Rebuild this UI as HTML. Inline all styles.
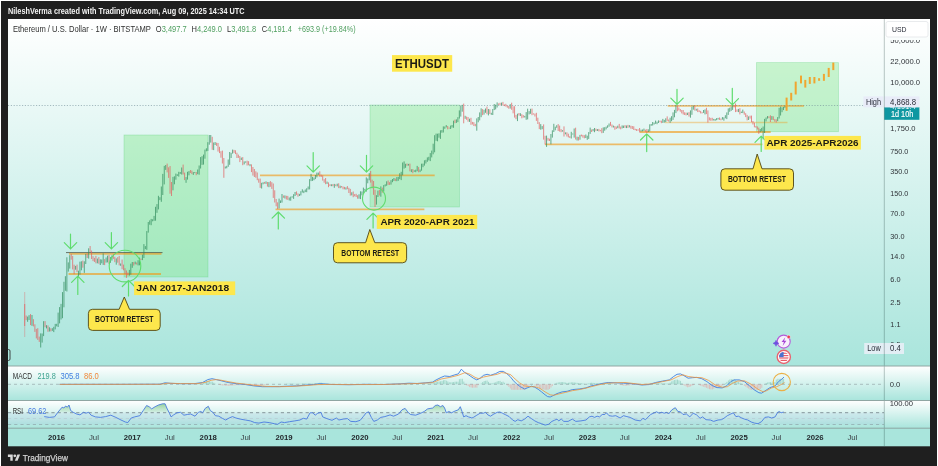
<!DOCTYPE html>
<html lang="en"><head><meta charset="utf-8"><title>ETHUSDT chart</title>
<style>html,body{margin:0;padding:0;background:#ffffff;}body{width:938px;height:466px;overflow:hidden;}svg{display:block;}</style>
</head><body>
<svg width="938" height="472" viewBox="0 0 938 472" font-family='"Liberation Sans", sans-serif'>
<defs>
<linearGradient id="gMain" gradientUnits="userSpaceOnUse" x1="0" y1="19" x2="0" y2="366"><stop offset="0" stop-color="#ffffff"/><stop offset="1" stop-color="#a9e5dc"/></linearGradient>
<linearGradient id="gMacd" gradientUnits="userSpaceOnUse" x1="0" y1="366" x2="0" y2="400.5"><stop offset="0" stop-color="#ffffff"/><stop offset="1" stop-color="#a9e5dc"/></linearGradient>
<linearGradient id="gRsi" gradientUnits="userSpaceOnUse" x1="0" y1="400.5" x2="0" y2="428"><stop offset="0" stop-color="#ffffff"/><stop offset="1" stop-color="#a9e5dc"/></linearGradient>
<clipPath id="cMain"><rect x="8" y="19" width="876.5" height="347"/></clipPath>
<clipPath id="cAxis"><rect x="885" y="40" width="45" height="326"/></clipPath>
<clipPath id="cRsiAx"><rect x="885" y="401" width="45" height="27"/></clipPath>
<linearGradient id="gOB" gradientUnits="userSpaceOnUse" x1="0" y1="403" x2="0" y2="412.7"><stop offset="0" stop-color="#4caf50" stop-opacity="0.6"/><stop offset="1" stop-color="#4caf50" stop-opacity="0.05"/></linearGradient>
<filter id="soft" color-interpolation-filters="sRGB" filterUnits="userSpaceOnUse" x="-10" y="-10" width="960" height="496"><feGaussianBlur stdDeviation="0.35"/></filter>
</defs>
<g filter="url(#soft)">
<rect x="-4" y="-4" width="946" height="480" fill="#ffffff"/>
<rect x="1" y="1" width="936" height="475" fill="#1f1f1f"/>
<rect x="8" y="19" width="922" height="347" fill="url(#gMain)"/>
<rect x="8" y="366" width="922" height="34.5" fill="url(#gMacd)"/>
<rect x="8" y="400.5" width="922" height="27.5" fill="url(#gRsi)"/>
<rect x="8" y="428" width="922" height="18.30000000000001" fill="#a9e5dc"/>
<text x="8.0" y="14.2" font-size="8.6" fill="#f2f2f2" font-weight="bold" text-anchor="start" textLength="236.5" lengthAdjust="spacingAndGlyphs">NileshVerma created with TradingView.com, Aug 09, 2025 14:34 UTC</text>
<rect x="124" y="135" width="84" height="142" fill="rgba(96,224,104,0.30)" stroke="rgba(70,200,100,0.30)" stroke-width="0.8"/>
<rect x="370" y="105" width="89.5" height="102" fill="rgba(96,224,104,0.30)" stroke="rgba(70,200,100,0.30)" stroke-width="0.8"/>
<rect x="756.5" y="62.6" width="82.0" height="69.1" fill="rgba(96,224,104,0.30)" stroke="rgba(70,200,100,0.30)" stroke-width="0.8"/>
<line x1="66" y1="252.6" x2="162.5" y2="252.6" stroke="#4a4a3a" stroke-width="0.9" opacity="0.85"/>
<line x1="69" y1="253.9" x2="161.5" y2="253.9" stroke="#f39916" stroke-width="1.7" opacity="0.62"/>
<line x1="68.5" y1="274" x2="161" y2="274" stroke="#f39916" stroke-width="1.8" opacity="0.62"/>
<line x1="260" y1="175.4" x2="434.7" y2="175.4" stroke="#f39916" stroke-width="1.8" opacity="0.62"/>
<line x1="275.5" y1="209.4" x2="424.4" y2="209.4" stroke="#f39916" stroke-width="1.8" opacity="0.62"/>
<line x1="545" y1="144.3" x2="762.4" y2="144.3" stroke="#f39916" stroke-width="1.8" opacity="0.62"/>
<line x1="640" y1="132" x2="770.7" y2="132" stroke="#f39916" stroke-width="1.9" opacity="0.62"/>
<line x1="664.6" y1="122.5" x2="787.5" y2="122.5" stroke="#f39916" stroke-width="1.5" opacity="0.38"/>
<line x1="667.8" y1="105.9" x2="804" y2="105.9" stroke="#f39916" stroke-width="1.9" opacity="0.6"/>
<line x1="8" y1="105.5" x2="884" y2="105.5" stroke="#6f8a95" stroke-width="0.7" stroke-dasharray="1.2,1.6" opacity="0.8"/>
</g>
<g clip-path="url(#cMain)">
<path d="M24.7 292V337" stroke="#e25e5e" stroke-width="0.7" fill="none" opacity="0.55"/>
<path d="M27.61 316.6V321.8M29.06 315.2V320.0M31.97 315.0V325.8M40.69 333.4V347.5M42.14 333.5V342.6M43.60 321.2V336.1M46.50 325.2V328.4M49.41 327.3V331.5M52.32 328.2V330.9M53.77 326.8V332.1M55.23 323.9V329.4M56.68 323.8V326.3M58.13 312.6V327.0M59.59 307.1V323.4M61.04 303.9V319.5M62.49 292.1V318.2M63.95 281.8V307.3M65.40 276.2V290.8M66.86 257.3V291.5M68.31 262.4V271.6M69.76 255.2V268.6M75.58 265.9V269.7M78.48 270.7V276.6M79.94 261.7V274.7M81.39 261.3V270.3M84.30 261.3V272.9M85.75 253.9V264.0M88.66 248.3V258.6M97.38 258.6V263.3M100.29 259.3V265.0M101.74 259.5V263.3M103.20 253.4V264.9M106.10 257.5V262.6M107.56 255.7V262.4M110.46 257.1V262.8M111.92 255.4V260.6M116.28 258.4V264.7M120.64 263.5V265.8M129.36 269.9V275.7M130.81 263.7V274.7M132.27 262.0V267.8M135.18 261.6V264.3M138.08 260.2V265.4M139.54 257.6V265.3M142.44 254.7V260.1M143.90 244.1V258.0M145.35 246.1V249.1M146.80 231.1V249.8M148.26 222.0V232.6M149.71 220.4V224.7M151.17 218.9V225.2M152.62 219.3V221.3M154.07 215.9V220.8M155.53 206.8V220.7M156.98 204.1V212.8M158.43 195.8V209.4M159.89 197.2V200.1M161.34 186.5V201.8M162.79 173.9V195.0M164.25 165.9V184.4M165.70 165.0V169.9M172.97 176.9V190.3M174.42 176.3V184.3M175.88 173.6V179.7M177.33 174.3V175.9M178.78 171.8V176.6M180.24 172.0V173.9M181.69 167.5V174.5M186.05 177.1V182.8M187.51 171.8V179.6M188.96 171.1V175.3M193.32 172.1V174.9M194.77 172.1V173.1M197.68 169.5V174.2M199.13 165.5V174.7M200.59 157.1V168.5M202.04 156.2V164.9M203.50 154.6V164.6M204.95 149.6V158.7M206.40 148.3V151.3M207.86 142.2V150.9M209.31 135.0V144.7M210.76 135.0V142.6M213.67 142.5V150.1M215.12 142.1V145.0M225.30 166.5V168.5M226.75 165.8V168.3M228.21 159.5V166.8M229.66 152.0V164.8M231.11 152.8V158.0M232.57 149.6V153.6M241.29 157.6V160.0M244.20 161.4V164.4M245.65 161.4V162.7M250.01 164.1V166.2M261.64 182.8V188.5M263.09 182.3V184.3M266.00 181.4V183.9M268.91 182.1V187.2M279.08 198.6V208.4M280.54 200.4V203.0M281.99 194.0V202.6M284.90 195.4V198.5M289.26 197.5V200.5M290.71 196.6V200.7M292.17 196.3V197.6M293.62 194.2V198.9M295.07 192.0V196.0M299.43 193.9V196.0M300.89 191.2V195.4M302.34 189.3V192.5M303.80 190.7V193.1M305.25 189.5V192.1M306.70 188.3V192.2M308.16 186.5V189.5M309.61 179.1V189.4M311.06 173.9V181.1M312.52 176.9V180.9M313.97 177.5V180.2M315.42 175.0V179.1M316.88 172.6V177.4M318.33 172.6V174.9M327.05 181.6V183.9M331.41 184.3V186.2M334.32 183.9V187.8M337.23 183.7V186.4M340.14 185.7V188.2M345.95 187.4V189.6M351.76 192.3V195.4M359.03 194.3V198.7M360.49 191.3V199.1M361.94 191.5V195.3M363.39 187.6V193.7M364.85 188.9V190.7M366.30 177.4V191.7M367.75 178.5V183.3M369.21 173.1V180.3M376.48 195.2V204.6M377.93 190.6V197.0M380.84 186.4V196.7M383.74 185.1V191.4M385.20 184.3V186.4M386.65 181.3V185.8M391.01 180.2V184.6M392.47 179.0V182.2M393.92 178.0V180.9M396.83 177.1V181.2M398.28 176.9V180.8M399.73 173.2V179.1M401.19 171.8V180.1M402.64 162.5V175.3M404.10 161.4V168.6M405.55 163.8V167.8M408.46 163.9V165.6M411.36 169.3V172.1M414.27 170.3V171.8M415.72 169.7V172.2M417.18 165.9V171.2M420.09 169.5V172.1M421.54 163.7V170.7M422.99 163.6V167.2M424.45 160.3V165.6M425.90 159.8V163.5M427.35 157.4V161.8M428.81 156.8V160.4M430.26 153.1V161.1M431.71 150.6V157.4M433.17 143.7V154.3M434.62 135.2V152.3M436.08 133.6V140.8M437.53 133.7V141.3M438.98 133.3V137.7M440.44 130.3V138.9M441.89 130.0V132.7M443.34 126.4V132.5M444.80 126.5V128.8M446.25 125.1V127.4M450.61 125.6V129.0M452.06 125.0V127.5M453.52 120.7V127.8M456.43 119.4V122.9M457.88 117.2V122.1M459.33 110.4V118.5M460.79 105.4V116.6M462.24 104.8V111.7M465.15 115.8V118.8M469.51 118.7V121.9M476.78 118.4V130.7M478.23 117.0V122.3M479.68 112.4V120.4M481.14 108.3V117.2M484.04 109.8V114.6M485.50 108.5V112.8M488.41 109.0V115.4M491.31 112.8V114.8M492.77 109.0V115.0M494.22 104.0V110.1M495.67 104.7V109.4M497.13 102.4V107.5M501.49 102.6V105.4M510.21 104.1V108.6M517.48 113.7V121.1M520.39 113.2V116.0M524.75 115.9V117.5M526.20 112.1V119.8M527.65 108.7V119.4M529.11 111.1V114.4M530.56 108.8V113.8M540.74 124.1V129.7M542.19 126.1V129.2M546.55 135.6V146.9M550.91 134.0V144.3M552.36 130.3V137.6M553.82 123.8V132.0M555.27 126.7V130.3M556.73 125.2V127.8M562.54 130.2V131.6M565.45 132.4V134.3M571.26 131.8V138.5M572.72 133.5V134.5M574.17 128.5V137.6M577.08 136.7V140.5M579.98 134.9V139.7M585.80 134.5V138.0M587.25 135.7V139.8M588.71 132.1V138.9M590.16 127.6V133.9M593.07 129.0V131.2M594.52 128.0V132.2M597.43 129.1V131.0M603.24 127.4V132.9M604.70 127.2V130.7M606.15 126.6V129.4M607.60 125.3V127.8M609.06 123.5V126.7M613.42 125.6V127.5M617.78 125.7V128.2M622.14 125.4V128.4M623.59 125.6V128.0M626.50 125.5V128.1M629.41 125.2V127.4M641.04 129.7V131.5M642.49 129.5V131.3M643.94 128.6V131.0M648.30 129.3V132.0M649.76 124.3V131.4M651.21 124.0V125.8M652.66 122.0V125.5M654.12 122.6V124.5M655.57 120.6V123.8M657.03 121.7V124.2M658.48 120.4V123.0M662.84 118.9V122.9M664.29 119.9V122.6M665.75 118.3V122.1M670.11 117.7V122.8M671.56 116.2V121.2M673.02 112.4V119.9M674.47 109.9V117.3M675.92 104.8V113.1M687.55 112.7V115.0M690.46 110.4V117.7M691.91 106.7V114.8M693.37 105.6V109.7M696.27 108.8V110.7M703.54 110.0V112.9M705.00 109.4V114.4M713.72 118.9V120.5M715.17 119.0V120.8M716.62 118.1V120.2M718.08 117.9V119.5M722.44 117.1V119.6M723.89 117.4V120.7M725.35 115.2V118.3M726.80 112.4V119.1M728.25 108.4V114.9M729.71 107.7V111.8M731.16 106.5V110.9M732.61 104.9V109.9M738.43 108.9V112.1M741.34 111.6V113.0M742.79 109.6V113.1M748.60 116.4V120.0M760.23 129.0V132.2M761.69 127.9V131.3M763.14 126.5V139.4M764.59 118.9V133.0M766.05 117.5V121.4M767.50 116.1V118.6M771.86 116.1V119.9M777.68 117.1V121.1M779.13 107.8V118.5M780.58 106.6V115.5M782.04 107.4V112.2M783.49 106.9V110.1M784.94 105.7V108.1" stroke="#2f8c5c" stroke-width="0.72" fill="none"/>
<path d="M24.70 304.0V326.0M26.15 315.5V320.1M30.51 314.1V325.1M33.42 319.2V326.4M34.88 324.3V331.9M36.33 328.9V338.4M37.78 328.2V339.9M39.24 336.6V341.9M45.05 321.1V327.2M47.96 325.4V331.8M50.87 328.3V331.4M71.22 253.9V259.7M72.67 255.9V269.4M74.12 264.7V274.1M77.03 264.6V272.1M82.84 260.6V267.7M87.21 253.5V258.0M90.11 246.0V252.1M91.57 250.5V259.0M93.02 256.2V261.1M94.47 257.9V261.9M95.93 255.9V263.3M98.83 257.1V263.7M104.65 259.1V265.1M109.01 255.0V263.8M113.37 254.0V258.9M114.82 256.8V262.2M117.73 257.1V262.7M119.19 255.9V265.4M122.09 259.5V269.2M123.55 264.6V270.3M125.00 268.2V274.1M126.45 270.5V277.9M127.91 272.5V275.4M133.72 262.1V265.6M136.63 262.5V264.5M140.99 258.6V260.0M167.15 163.6V172.4M168.61 167.3V177.9M170.06 166.0V193.7M171.52 182.0V196.0M183.14 164.6V174.5M184.60 172.6V180.1M190.41 170.0V173.0M191.87 170.6V174.1M196.23 172.0V175.2M212.22 136.8V149.8M216.58 142.7V145.9M218.03 143.0V151.6M219.49 146.8V153.1M220.94 151.2V157.7M222.39 150.6V163.5M223.85 158.0V177.8M234.02 149.9V152.9M235.48 150.3V154.1M236.93 152.7V158.0M238.38 154.6V157.9M239.84 156.0V162.1M242.74 157.1V165.2M247.10 160.7V165.5M248.56 161.2V165.3M251.47 164.4V172.1M252.92 167.0V175.6M254.37 169.0V177.0M255.83 171.3V177.7M257.28 172.5V180.2M258.73 178.7V182.7M260.19 178.6V187.9M264.55 181.9V183.7M267.45 182.0V186.6M270.36 181.1V186.8M271.82 182.2V188.9M273.27 183.5V197.9M274.72 190.3V202.5M276.18 199.0V206.3M277.63 202.3V209.0M283.44 195.5V197.8M286.35 195.8V199.5M287.81 195.9V199.9M296.53 191.4V194.9M297.98 193.4V196.7M319.79 171.3V176.7M321.24 174.7V176.9M322.69 175.4V180.6M324.15 179.2V182.7M325.60 178.0V184.2M328.51 182.4V187.2M329.96 184.2V186.0M332.87 184.1V186.2M335.78 184.4V186.1M338.68 183.3V188.1M341.59 186.0V187.5M343.04 186.5V189.3M344.50 186.9V189.3M347.40 186.1V189.2M348.86 187.8V193.0M350.31 188.9V195.6M353.22 191.5V197.2M354.67 194.1V196.3M356.13 193.8V197.0M357.58 195.2V198.7M370.66 171.0V182.6M372.12 179.7V188.4M373.57 181.0V194.8M375.02 189.8V207.0M379.38 190.0V195.5M382.29 187.6V192.7M388.11 180.5V184.9M389.56 182.2V184.9M395.37 178.6V181.1M407.00 163.6V165.8M409.91 163.6V171.3M412.82 169.0V173.2M418.63 167.1V172.3M447.70 126.0V129.3M449.16 127.5V128.7M454.97 119.6V123.2M463.69 103.6V123.3M466.60 116.6V119.8M468.05 117.0V121.7M470.96 117.8V124.8M472.42 121.9V124.5M473.87 122.2V126.0M475.32 123.9V126.3M482.59 109.1V115.2M486.95 106.6V114.2M489.86 109.3V114.0M498.58 103.5V104.9M500.03 102.8V105.3M502.94 101.9V105.6M504.40 104.4V106.1M505.85 103.8V106.6M507.30 105.4V107.7M508.76 105.9V108.7M511.66 102.7V109.8M513.12 106.3V113.3M514.57 106.2V117.6M516.02 114.9V119.2M518.93 113.0V115.5M521.84 114.2V118.3M523.29 115.1V117.6M532.01 108.6V115.2M533.47 113.4V114.5M534.92 113.6V116.5M536.37 112.8V120.9M537.83 117.7V124.0M539.28 122.2V129.1M543.64 124.4V139.6M545.10 135.8V144.5M548.00 137.9V140.7M549.46 138.7V141.0M558.18 124.1V131.0M559.63 125.6V131.6M561.09 129.1V132.2M563.99 126.4V136.5M566.90 132.3V136.5M568.35 133.7V137.4M569.81 136.1V138.0M575.62 127.7V139.5M578.53 136.9V140.5M581.44 134.6V136.3M582.89 134.9V137.7M584.34 135.2V138.3M591.61 129.5V132.0M595.97 128.7V130.9M598.88 128.9V131.4M600.33 129.9V131.3M601.79 128.2V133.2M610.51 121.9V125.8M611.96 124.5V127.4M614.87 126.1V129.8M616.32 126.6V129.0M619.23 123.9V128.5M620.69 126.6V129.3M625.05 125.1V127.8M627.95 124.9V127.9M630.86 125.7V128.7M632.31 126.0V129.0M633.77 126.3V130.0M635.22 128.8V130.2M636.67 129.0V131.0M638.13 129.4V130.6M639.58 128.0V132.5M645.40 129.7V131.7M646.85 129.1V133.0M659.93 120.7V122.2M661.39 120.7V123.2M667.20 116.4V120.9M668.65 119.5V121.5M677.38 105.8V111.3M678.83 107.5V110.4M680.28 109.0V111.7M681.74 110.0V113.4M683.19 110.0V114.5M684.64 112.3V115.0M686.10 112.6V115.4M689.01 112.1V116.6M694.82 105.6V110.6M697.73 108.5V112.1M699.18 110.3V112.1M700.63 110.9V113.4M702.09 112.1V113.4M706.45 107.8V114.1M707.90 110.4V122.6M709.36 117.3V120.4M710.81 117.9V120.8M712.26 117.8V120.6M719.53 117.5V119.9M720.98 118.5V120.3M734.07 105.4V107.4M735.52 103.5V112.1M736.97 109.4V111.8M739.88 108.2V114.4M744.24 111.5V114.7M745.70 113.2V117.1M747.15 114.9V120.4M750.06 115.7V118.6M751.51 115.6V122.2M752.96 121.0V124.5M754.42 122.7V127.3M755.87 125.9V127.7M757.33 126.4V129.5M758.78 127.7V133.8M768.95 116.3V118.2M770.41 115.3V122.0M773.32 116.3V120.1M774.77 119.1V121.7M776.22 119.3V122.5" stroke="#e25e5e" stroke-width="0.72" fill="none"/>
</g>
<g filter="url(#soft)">
<rect x="785.6" y="97.6" width="2" height="13.2" fill="#f0a630"/>
<rect x="790.2" y="92.8" width="2" height="7.7" fill="#f0a630"/>
<rect x="794.7" y="81.6" width="2" height="12.9" fill="#f0a630"/>
<rect x="800.0" y="75.6" width="2" height="7.8" fill="#f0a630"/>
<rect x="804.3" y="79.9" width="2" height="7.7" fill="#f0a630"/>
<rect x="808.8" y="77" width="2" height="6.9" fill="#f0a630"/>
<rect x="813.4" y="77" width="2" height="6.4" fill="#f0a630"/>
<rect x="818.1" y="78.2" width="2" height="2.6" fill="#f0a630"/>
<rect x="822.9" y="73.9" width="2" height="6.9" fill="#f0a630"/>
<rect x="827.7" y="67.9" width="2" height="9.1" fill="#f0a630"/>
<rect x="832.3" y="62.6" width="2" height="7.5" fill="#f0a630"/>
<path d="M70.5 234.2V248.9M64.3 242.70000000000002L70.5 248.9L76.7 242.70000000000002" stroke="#5fdc6e" stroke-width="1.2" fill="none" stroke-linecap="round" stroke-linejoin="round"/>
<path d="M111.4 232.6V248.9M105.2 242.70000000000002L111.4 248.9L117.60000000000001 242.70000000000002" stroke="#5fdc6e" stroke-width="1.2" fill="none" stroke-linecap="round" stroke-linejoin="round"/>
<path d="M77.8 294.4V276.2M71.6 282.4L77.8 276.2L84.0 282.4" stroke="#5fdc6e" stroke-width="1.2" fill="none" stroke-linecap="round" stroke-linejoin="round"/>
<path d="M128.5 296V280.3M122.3 286.5L128.5 280.3L134.7 286.5" stroke="#5fdc6e" stroke-width="1.2" fill="none" stroke-linecap="round" stroke-linejoin="round"/>
<path d="M313.2 152.6V172.1M307.0 165.9L313.2 172.1L319.4 165.9" stroke="#5fdc6e" stroke-width="1.2" fill="none" stroke-linecap="round" stroke-linejoin="round"/>
<path d="M366.5 155.3V172.1M360.3 165.9L366.5 172.1L372.7 165.9" stroke="#5fdc6e" stroke-width="1.2" fill="none" stroke-linecap="round" stroke-linejoin="round"/>
<path d="M278.3 229V212M272.1 218.2L278.3 212L284.5 218.2" stroke="#5fdc6e" stroke-width="1.2" fill="none" stroke-linecap="round" stroke-linejoin="round"/>
<path d="M373.1 228V213.1M366.90000000000003 219.29999999999998L373.1 213.1L379.3 219.29999999999998" stroke="#5fdc6e" stroke-width="1.2" fill="none" stroke-linecap="round" stroke-linejoin="round"/>
<path d="M677 89.4V104.4M670.8 98.2L677 104.4L683.2 98.2" stroke="#5fdc6e" stroke-width="1.2" fill="none" stroke-linecap="round" stroke-linejoin="round"/>
<path d="M732.3 88.4V104.9M726.0999999999999 98.7L732.3 104.9L738.5 98.7" stroke="#5fdc6e" stroke-width="1.2" fill="none" stroke-linecap="round" stroke-linejoin="round"/>
<path d="M646.7 151.6V133.8M640.5 140.0L646.7 133.8L652.9000000000001 140.0" stroke="#5fdc6e" stroke-width="1.2" fill="none" stroke-linecap="round" stroke-linejoin="round"/>
<path d="M761.2 151.5V136.1M755.0 142.29999999999998L761.2 136.1L767.4000000000001 142.29999999999998" stroke="#5fdc6e" stroke-width="1.2" fill="none" stroke-linecap="round" stroke-linejoin="round"/>
<circle cx="125" cy="266.1" r="15.8" stroke="#5fdc6e" stroke-width="1.1" fill="none"/>
<circle cx="374" cy="198.6" r="11.5" stroke="#5fdc6e" stroke-width="1.1" fill="none"/>
<rect x="392" y="55.1" width="60.2" height="16.6" fill="#fde74c"/>
<text x="394.9" y="67.7" font-size="12.3" fill="#1c1c14" font-weight="bold" text-anchor="start" textLength="54.0" lengthAdjust="spacingAndGlyphs">ETHUSDT</text>
<rect x="134.1" y="281.4" width="101.1" height="13.7" fill="#fde74c"/>
<text x="136.3" y="291.4" font-size="9.8" fill="#1c1c14" font-weight="bold" text-anchor="start" textLength="92.8" lengthAdjust="spacingAndGlyphs">JAN 2017-JAN2018</text>
<rect x="376.8" y="214.9" width="100.4" height="14.0" fill="#fde74c"/>
<text x="380.4" y="225.3" font-size="9.8" fill="#1c1c14" font-weight="bold" text-anchor="start" textLength="94.0" lengthAdjust="spacingAndGlyphs">APR 2020-APR 2021</text>
<rect x="764.4" y="135.9" width="96.5" height="13.7" fill="#fde74c"/>
<text x="766.4" y="146.1" font-size="9.8" fill="#1c1c14" font-weight="bold" text-anchor="start" textLength="92.1" lengthAdjust="spacingAndGlyphs">APR 2025-APR2026</text>
<path d="M92.4 309.3L119.1 309.3L124.3 297L129.5 309.3L156.2 309.3Q160.2 309.3 160.2 313.3L160.2 326.4Q160.2 330.4 156.2 330.4L92.4 330.4Q88.4 330.4 88.4 326.4L88.4 313.3Q88.4 309.3 92.4 309.3Z" fill="#fde74c" stroke="#4f4412" stroke-width="0.9" stroke-linejoin="round"/>
<text x="95.1" y="321.9" font-size="8.6" fill="#1c1c14" font-weight="bold" text-anchor="start" textLength="58.4" lengthAdjust="spacingAndGlyphs">BOTTOM RETEST</text>
<path d="M337.5 242.7L365.6 242.7L369.8 229.5L374.8 242.7L402.6 242.7Q406.6 242.7 406.6 246.7L406.6 258.8Q406.6 262.8 402.6 262.8L337.5 262.8Q333.5 262.8 333.5 258.8L333.5 246.7Q333.5 242.7 337.5 242.7Z" fill="#fde74c" stroke="#4f4412" stroke-width="0.9" stroke-linejoin="round"/>
<text x="341.3" y="255.6" font-size="8.6" fill="#1c1c14" font-weight="bold" text-anchor="start" textLength="57.8" lengthAdjust="spacingAndGlyphs">BOTTOM RETEST</text>
<path d="M724.9 168.8L753 168.8L757.2 154L762 168.8L789.5 168.8Q793.5 168.8 793.5 172.8L793.5 186.2Q793.5 190.2 789.5 190.2L724.9 190.2Q720.9 190.2 720.9 186.2L720.9 172.8Q720.9 168.8 724.9 168.8Z" fill="#fde74c" stroke="#4f4412" stroke-width="0.9" stroke-linejoin="round"/>
<text x="727.9" y="182.2" font-size="8.6" fill="#1c1c14" font-weight="bold" text-anchor="start" textLength="58.1" lengthAdjust="spacingAndGlyphs">BOTTOM RETEST</text>
<text x="12.9" y="31.8" font-size="9" fill="#303030" font-weight="normal" text-anchor="start" textLength="138.0" lengthAdjust="spacingAndGlyphs">Ethereum / U.S. Dollar · 1W · BITSTAMP</text>
<text x="155.8" y="31.8" font-size="9" textLength="30.9" lengthAdjust="spacingAndGlyphs"><tspan fill="#303030">O</tspan><tspan fill="#4f9f5f">3,497.7</tspan></text>
<text x="191.5" y="31.8" font-size="9" textLength="30.5" lengthAdjust="spacingAndGlyphs"><tspan fill="#303030">H</tspan><tspan fill="#4f9f5f">4,249.0</tspan></text>
<text x="227" y="31.8" font-size="9" textLength="29.2" lengthAdjust="spacingAndGlyphs"><tspan fill="#303030">L</tspan><tspan fill="#4f9f5f">3,491.8</tspan></text>
<text x="261.8" y="31.8" font-size="9" textLength="30.1" lengthAdjust="spacingAndGlyphs"><tspan fill="#303030">C</tspan><tspan fill="#4f9f5f">4,191.4</tspan></text>
<text x="297.8" y="31.8" font-size="9" fill="#4f9f5f" font-weight="normal" text-anchor="start" textLength="57.8" lengthAdjust="spacingAndGlyphs">+693.9 (+19.84%)</text>
<rect x="886" y="21.5" width="42" height="15.5" rx="2" fill="#ffffff" stroke="#e3e6e8" stroke-width="0.8"/>
<text x="892.0" y="32.0" font-size="8" fill="#2a2e39" font-weight="normal" text-anchor="start" textLength="14.5" lengthAdjust="spacingAndGlyphs">USD</text>
<g clip-path="url(#cAxis)">
<text x="890.3" y="43.0" font-size="8" fill="#2f3338" font-weight="normal" text-anchor="start" textLength="29.7" lengthAdjust="spacingAndGlyphs">50,000.0</text>
<text x="890.3" y="64.3" font-size="8" fill="#2f3338" font-weight="normal" text-anchor="start" textLength="29.7" lengthAdjust="spacingAndGlyphs">22,000.0</text>
<text x="890.3" y="85.4" font-size="8" fill="#2f3338" font-weight="normal" text-anchor="start" textLength="29.7" lengthAdjust="spacingAndGlyphs">10,000.0</text>
<text x="890.3" y="130.8" font-size="8" fill="#2f3338" font-weight="normal" text-anchor="start" textLength="25.2" lengthAdjust="spacingAndGlyphs">1,750.0</text>
<text x="890.3" y="153.5" font-size="8" fill="#2f3338" font-weight="normal" text-anchor="start" textLength="18.1" lengthAdjust="spacingAndGlyphs">750.0</text>
<text x="890.3" y="174.1" font-size="8" fill="#2f3338" font-weight="normal" text-anchor="start" textLength="18.1" lengthAdjust="spacingAndGlyphs">350.0</text>
<text x="890.3" y="196.0" font-size="8" fill="#2f3338" font-weight="normal" text-anchor="start" textLength="18.1" lengthAdjust="spacingAndGlyphs">150.0</text>
<text x="890.3" y="216.1" font-size="8" fill="#2f3338" font-weight="normal" text-anchor="start" textLength="14.2" lengthAdjust="spacingAndGlyphs">70.0</text>
<text x="890.3" y="239.1" font-size="8" fill="#2f3338" font-weight="normal" text-anchor="start" textLength="14.2" lengthAdjust="spacingAndGlyphs">30.0</text>
<text x="890.3" y="259.1" font-size="8" fill="#2f3338" font-weight="normal" text-anchor="start" textLength="14.2" lengthAdjust="spacingAndGlyphs">14.0</text>
<text x="890.3" y="281.6" font-size="8" fill="#2f3338" font-weight="normal" text-anchor="start" textLength="10.2" lengthAdjust="spacingAndGlyphs">6.0</text>
<text x="890.3" y="304.8" font-size="8" fill="#2f3338" font-weight="normal" text-anchor="start" textLength="10.2" lengthAdjust="spacingAndGlyphs">2.5</text>
<text x="890.3" y="326.7" font-size="8" fill="#2f3338" font-weight="normal" text-anchor="start" textLength="10.2" lengthAdjust="spacingAndGlyphs">1.1</text>
<text x="890.3" y="346.8" font-size="8" fill="#2f3338" font-weight="normal" text-anchor="start" textLength="10.2" lengthAdjust="spacingAndGlyphs">0.5</text>
</g>
<rect x="884.3" y="107.2" width="35.1" height="12.6" fill="#0f97a1"/>
<clipPath id="cPr"><rect x="884" y="107.3" width="40" height="4"/></clipPath>
<g clip-path="url(#cPr)">
<text x="890.3" y="108.7" font-size="8" fill="#ffffff" font-weight="normal" text-anchor="start" textLength="25.5" lengthAdjust="spacingAndGlyphs">4,191.4</text>
</g>
<rect x="863.4" y="96.4" width="20" height="10.9" fill="#e8ecf8"/>
<text x="865.9" y="104.6" font-size="8.6" fill="#2a2e39" font-weight="normal" text-anchor="start" textLength="15.2" lengthAdjust="spacingAndGlyphs">High</text>
<rect x="884.3" y="96.4" width="35.1" height="10.9" fill="#e8ecf8"/>
<text x="890.1" y="104.6" font-size="8.4" fill="#2a2e39" font-weight="normal" text-anchor="start" textLength="25.9" lengthAdjust="spacingAndGlyphs">4,868.8</text>
<text x="890.9" y="117.0" font-size="8.4" fill="#ffffff" font-weight="normal" text-anchor="start" textLength="22.4" lengthAdjust="spacingAndGlyphs" stroke="#ffffff" stroke-width="0.15">1d 10h</text>
<rect x="864.2" y="343" width="39.8" height="11" fill="#e2eef4"/>
<text x="867.3" y="351.2" font-size="8.6" fill="#2a2e39" font-weight="normal" text-anchor="start" textLength="13.4" lengthAdjust="spacingAndGlyphs">Low</text>
<text x="890.1" y="351.2" font-size="8.4" fill="#2a2e39" font-weight="normal" text-anchor="start" textLength="10.8" lengthAdjust="spacingAndGlyphs">0.4</text>
<text x="889.7" y="387.0" font-size="8" fill="#2f3338" font-weight="normal" text-anchor="start" textLength="10.6" lengthAdjust="spacingAndGlyphs">0.0</text>
<g clip-path="url(#cRsiAx)">
<text x="889.7" y="405.6" font-size="8" fill="#2f3338" font-weight="normal" text-anchor="start" textLength="23.3" lengthAdjust="spacingAndGlyphs">100.00</text>
</g>
<line x1="884.3" y1="19" x2="884.3" y2="446" stroke="#10302c" stroke-width="1" opacity="0.27"/>
<line x1="8" y1="366" x2="930" y2="366" stroke="#8fa6a3" stroke-width="1"/>
<line x1="8" y1="400.5" x2="930" y2="400.5" stroke="#8fa6a3" stroke-width="1"/>
<line x1="8" y1="428.2" x2="930" y2="428.2" stroke="#8fa6a3" stroke-width="1"/>
<rect x="5" y="349.5" width="5" height="11" rx="1.5" fill="none" stroke="#333" stroke-width="0.9" clip-path="url(#cMain)"/>
<line x1="8" y1="384.3" x2="884" y2="384.3" stroke="#8a9aa0" stroke-width="0.8" stroke-dasharray="3,3" opacity="0.75"/>
<path d="M161.5 384.3V383.7M162.9 384.3V383.4M164.4 384.3V383.0M165.8 384.3V383.1M167.3 384.3V383.8M197.8 384.3V383.5M199.2 384.3V383.5M200.7 384.3V383.6M202.2 384.3V383.7M203.6 384.3V383.0M205.1 384.3V381.9M206.5 384.3V381.1M208.0 384.3V380.7M209.4 384.3V381.2M210.9 384.3V381.6M212.3 384.3V381.7M213.8 384.3V382.7M215.2 384.3V383.7M286.5 384.3V383.8M287.9 384.3V383.7M289.4 384.3V383.7M290.8 384.3V383.7M292.3 384.3V383.7M293.7 384.3V383.7M295.2 384.3V383.8M298.1 384.3V383.8M299.5 384.3V383.8M301.0 384.3V383.7M302.5 384.3V383.6M303.9 384.3V383.6M305.4 384.3V383.5M306.8 384.3V383.5M308.3 384.3V383.5M309.7 384.3V383.5M311.2 384.3V383.5M312.6 384.3V383.5M314.1 384.3V383.4M315.5 384.3V383.3M317.0 384.3V383.2M318.4 384.3V383.0M319.9 384.3V382.7M321.4 384.3V382.8M322.8 384.3V383.1M324.3 384.3V383.3M325.7 384.3V383.5M327.2 384.3V383.7M402.8 384.3V383.7M404.2 384.3V383.6M405.7 384.3V383.5M407.1 384.3V383.4M408.6 384.3V383.3M410.0 384.3V383.4M411.5 384.3V383.6M412.9 384.3V383.8M427.5 384.3V383.7M428.9 384.3V383.6M430.4 384.3V383.5M431.8 384.3V383.4M433.3 384.3V383.1M434.7 384.3V382.5M436.2 384.3V381.9M437.6 384.3V381.7M439.1 384.3V381.5M440.5 384.3V381.3M442.0 384.3V380.9M443.5 384.3V380.3M444.9 384.3V380.0M446.4 384.3V380.7M447.8 384.3V381.5M449.3 384.3V382.3M450.7 384.3V382.4M452.2 384.3V382.2M453.6 384.3V382.0M455.1 384.3V381.7M456.5 384.3V381.7M458.0 384.3V381.7M459.4 384.3V379.2M460.9 384.3V378.8M462.4 384.3V378.8M463.8 384.3V381.6M481.3 384.3V383.4M482.7 384.3V382.0M484.2 384.3V381.0M485.6 384.3V380.8M487.1 384.3V380.5M488.5 384.3V381.9M490.0 384.3V383.2M491.4 384.3V383.5M492.9 384.3V383.1M494.3 384.3V382.7M495.8 384.3V382.2M497.2 384.3V381.4M498.7 384.3V381.0M500.1 384.3V380.9M501.6 384.3V382.0M503.1 384.3V381.7M504.5 384.3V382.8M532.1 384.3V383.8M555.4 384.3V383.5M556.8 384.3V382.8M558.3 384.3V382.5M559.7 384.3V382.3M561.2 384.3V382.0M562.7 384.3V382.0M564.1 384.3V382.3M565.6 384.3V382.6M567.0 384.3V383.0M568.5 384.3V382.8M569.9 384.3V382.6M571.4 384.3V382.4M572.8 384.3V382.3M574.3 384.3V382.5M575.7 384.3V382.7M577.2 384.3V382.9M578.6 384.3V383.1M580.1 384.3V383.2M581.6 384.3V383.3M583.0 384.3V383.5M584.5 384.3V383.8M587.4 384.3V383.7M588.8 384.3V383.3M590.3 384.3V382.9M591.7 384.3V382.7M593.2 384.3V382.9M594.6 384.3V383.0M596.1 384.3V383.2M597.5 384.3V383.3M599.0 384.3V383.3M600.4 384.3V383.2M601.9 384.3V383.1M603.4 384.3V383.0M604.8 384.3V383.1M606.3 384.3V383.3M607.7 384.3V383.1M609.2 384.3V383.2M610.6 384.3V383.4M612.1 384.3V383.7M652.8 384.3V383.7M654.2 384.3V383.4M655.7 384.3V383.2M657.1 384.3V383.3M658.6 384.3V383.3M660.0 384.3V383.3M661.5 384.3V383.3M663.0 384.3V383.4M664.4 384.3V383.4M665.9 384.3V383.5M667.3 384.3V383.6M668.8 384.3V383.6M670.2 384.3V382.6M671.7 384.3V381.4M673.1 384.3V380.5M674.6 384.3V380.0M676.0 384.3V379.6M677.5 384.3V379.6M678.9 384.3V380.3M680.4 384.3V380.9M681.9 384.3V383.2M725.5 384.3V383.3M726.9 384.3V381.9M728.4 384.3V380.5M729.8 384.3V379.5M731.3 384.3V379.1M732.7 384.3V379.4M734.2 384.3V379.2M735.6 384.3V380.4M737.1 384.3V381.6M738.5 384.3V382.1M740.0 384.3V382.7M741.4 384.3V383.7M766.2 384.3V383.0M767.6 384.3V382.5M769.1 384.3V382.2M770.5 384.3V382.2M772.0 384.3V382.6M773.4 384.3V382.3M774.9 384.3V382.1M776.3 384.3V379.6M777.8 384.3V378.8M779.2 384.3V378.8M780.7 384.3V378.8M782.2 384.3V378.8M783.6 384.3V378.8" stroke="#59b39a" stroke-width="0.6" fill="none" opacity="0.7"/>
<path d="M219.6 384.3V385.0M221.1 384.3V385.3M222.5 384.3V385.4M224.0 384.3V385.5M225.4 384.3V385.7M226.9 384.3V385.8M228.3 384.3V385.9M229.8 384.3V385.8M231.2 384.3V385.7M232.7 384.3V385.6M234.1 384.3V385.5M235.6 384.3V385.3M237.0 384.3V385.2M238.5 384.3V385.2M239.9 384.3V385.2M241.4 384.3V385.1M242.9 384.3V385.1M244.3 384.3V385.1M245.8 384.3V385.1M247.2 384.3V385.2M248.7 384.3V385.3M250.1 384.3V385.4M251.6 384.3V385.5M253.0 384.3V385.6M254.5 384.3V385.6M255.9 384.3V385.5M257.4 384.3V385.5M258.8 384.3V385.5M260.3 384.3V385.5M261.8 384.3V385.5M263.2 384.3V385.3M264.7 384.3V385.1M266.1 384.3V384.9M267.6 384.3V384.8M466.7 384.3V385.4M468.2 384.3V386.1M469.6 384.3V387.1M471.1 384.3V387.5M472.5 384.3V387.7M474.0 384.3V387.7M475.4 384.3V387.5M476.9 384.3V387.7M478.3 384.3V385.2M507.4 384.3V385.4M508.9 384.3V386.8M510.3 384.3V388.4M511.8 384.3V389.8M513.2 384.3V389.8M514.7 384.3V389.8M516.1 384.3V389.8M517.6 384.3V389.8M519.0 384.3V389.8M520.5 384.3V389.8M522.0 384.3V389.8M523.4 384.3V389.8M524.9 384.3V389.8M526.3 384.3V388.3M527.8 384.3V386.8M529.2 384.3V385.2M535.0 384.3V385.4M536.5 384.3V386.2M537.9 384.3V387.0M539.4 384.3V388.1M540.8 384.3V388.8M542.3 384.3V389.1M543.8 384.3V389.4M545.2 384.3V389.8M546.7 384.3V389.8M548.1 384.3V389.8M549.6 384.3V389.0M551.0 384.3V387.5M552.5 384.3V385.8M619.3 384.3V384.9M620.8 384.3V385.1M622.3 384.3V385.4M623.7 384.3V385.6M625.2 384.3V385.8M626.6 384.3V385.6M628.1 384.3V385.5M629.5 384.3V385.3M631.0 384.3V385.1M632.4 384.3V385.0M633.9 384.3V384.9M635.3 384.3V385.0M636.8 384.3V385.0M638.2 384.3V385.1M639.7 384.3V385.1M641.1 384.3V385.2M642.6 384.3V385.2M644.1 384.3V385.2M645.5 384.3V385.2M647.0 384.3V385.2M648.4 384.3V385.2M683.3 384.3V385.1M684.8 384.3V385.7M686.2 384.3V386.5M687.7 384.3V387.3M689.1 384.3V387.0M690.6 384.3V386.4M692.0 384.3V385.7M693.5 384.3V385.1M699.3 384.3V385.2M700.7 384.3V385.8M702.2 384.3V386.3M703.7 384.3V386.8M705.1 384.3V387.3M706.6 384.3V387.8M708.0 384.3V388.6M709.5 384.3V389.2M710.9 384.3V389.4M712.4 384.3V389.4M713.8 384.3V388.7M715.3 384.3V388.0M716.7 384.3V388.1M718.2 384.3V387.6M719.6 384.3V386.9M721.1 384.3V386.2M722.6 384.3V385.4M744.4 384.3V385.8M745.8 384.3V386.7M747.3 384.3V387.7M748.7 384.3V388.6M750.2 384.3V389.6M751.6 384.3V389.8M753.1 384.3V389.8M754.5 384.3V389.8M756.0 384.3V389.8M757.4 384.3V389.8M758.9 384.3V389.8M760.3 384.3V389.1M761.8 384.3V387.8" stroke="#ef8a86" stroke-width="0.6" fill="none" opacity="0.8"/>
<polyline points="59.6,384.3 120.0,384.3 150.0,384.2 160.0,384.2 165.1,382.8 170.2,383.3 180.5,383.7 194.0,383.7 202.6,382.5 207.8,379.6 212.0,378.7 216.3,379.6 221.4,380.8 228.2,382.5 236.8,383.7 245.3,384.5 253.8,385.9 262.3,386.7 270.9,386.7 279.4,386.6 287.9,386.2 296.5,385.9 305.0,385.2 313.5,384.5 320.1,383.7 332.0,384.5 349.1,384.7 366.2,384.3 383.2,384.5 400.3,383.8 408.8,383.2 417.3,383.5 425.9,382.8 432.7,382.1 436.1,379.9 441.2,377.4 444.6,376.0 449.8,376.5 454.9,374.8 458.3,373.9 461.4,369.2 464.3,372.2 468.5,374.8 471.0,376.5 473.4,378.2 476.8,379.9 480.2,378.2 483.6,375.3 487.1,374.3 490.5,375.3 495.6,373.6 499.9,371.4 503.3,371.4 506.7,373.6 510.1,376.5 513.5,380.8 516.9,384.2 520.3,386.7 524.6,389.0 528.0,387.6 531.4,386.2 534.8,387.2 538.2,389.3 541.6,391.9 545.1,394.8 547.6,396.6 550.2,397.0 552.7,395.8 557.0,393.6 562.1,391.9 567.2,391.3 572.3,389.6 579.2,389.0 586.0,387.9 591.1,385.9 597.9,384.5 603.0,383.3 608.2,382.5 615.0,382.8 623.5,383.2 633.5,383.8 642.0,385.0 648.9,384.5 655.7,382.5 662.5,381.1 669.3,379.9 673.6,376.5 677.0,374.3 680.4,373.9 683.9,375.6 688.1,378.2 692.4,377.7 696.6,377.4 701.8,378.7 706.9,381.6 712.0,385.5 717.1,387.6 722.2,387.9 726.5,385.9 730.8,381.6 734.2,379.9 739.3,379.9 744.4,381.6 749.5,385.9 754.6,390.1 758.9,392.7 761.5,393.2 764.9,391.0 770.0,387.6 775.1,385.9 778.5,381.6 781.9,379.1 784.0,377.0" fill="none" stroke="#3f7fe0" stroke-width="0.9" stroke-linejoin="round"/>
<polyline points="59.6,384.4 160.0,384.3 168.0,383.2 180.5,383.6 198.0,383.6 206.0,382.2 211.0,380.3 216.0,379.6 221.0,380.2 228.0,381.6 236.8,383.2 245.3,384.1 256.0,385.5 266.0,386.4 279.4,386.7 292.0,386.4 305.0,385.6 318.0,384.6 332.0,384.4 349.1,384.6 383.2,384.5 404.0,383.9 420.0,383.4 432.7,382.6 441.2,379.0 449.8,377.4 458.3,375.3 465.1,372.6 470.2,374.3 475.1,377.4 478.5,378.7 483.6,377.0 490.5,375.6 497.3,374.3 501.6,372.6 505.8,373.1 510.9,374.8 515.2,379.1 519.5,382.8 524.6,385.9 529.7,386.7 534.8,386.7 540.0,388.4 545.1,391.9 550.2,394.8 553.6,395.3 558.7,394.0 565.5,392.4 572.3,390.7 580.9,389.3 589.4,387.2 597.9,385.0 606.5,383.3 615.0,382.8 625.0,382.5 642.0,384.5 652.3,383.8 662.5,381.6 671.0,379.9 677.9,376.5 683.0,374.8 688.1,376.5 694.9,377.4 701.8,377.7 708.6,380.4 715.4,385.0 722.2,387.2 727.4,386.7 732.5,383.3 737.6,381.1 744.4,380.8 751.2,384.2 758.1,389.3 763.2,391.9 766.6,390.7 771.7,387.9 776.8,386.7 781.9,384.2 784.5,382.5" fill="none" stroke="#ee9440" stroke-width="0.9" stroke-linejoin="round" opacity="0.88"/>
<circle cx="781.8" cy="382" r="8.6" fill="none" stroke="#ebb045" stroke-width="1.1"/>
<text x="12.7" y="379.4" font-size="8.7" fill="#303030" font-weight="normal" text-anchor="start" textLength="19.3" lengthAdjust="spacingAndGlyphs">MACD</text>
<text x="37.4" y="379.4" font-size="8.7" fill="#3fa391" font-weight="normal" text-anchor="start" textLength="18.4" lengthAdjust="spacingAndGlyphs">219.8</text>
<text x="60.4" y="379.4" font-size="8.7" fill="#3f7fe0" font-weight="normal" text-anchor="start" textLength="19.1" lengthAdjust="spacingAndGlyphs">305.8</text>
<text x="84.0" y="379.4" font-size="8.7" fill="#f0883a" font-weight="normal" text-anchor="start" textLength="14.8" lengthAdjust="spacingAndGlyphs">86.0</text>
<rect x="8" y="412.7" width="876" height="11.7" fill="#7e8fd6" opacity="0.10"/>
<clipPath id="c70"><rect x="8" y="400" width="876" height="12.7"/></clipPath>
<polygon points="44.2,412.7 44.2,416.6 49.3,417.4 54.5,416.9 57.9,412.3 62.1,407.2 63.9,408.0 65.6,406.0 67.3,407.2 69.0,405.0 70.7,410.6 73.2,412.3 76.6,414.0 80.0,414.9 83.5,412.3 86.0,413.2 88.6,412.3 91.1,415.2 95.4,416.9 100.5,417.4 105.6,416.6 110.8,415.2 115.9,417.4 121.0,420.0 125.3,422.0 127.8,422.6 131.2,418.0 134.6,416.9 139.8,415.7 143.2,410.6 146.6,405.5 149.1,406.7 151.7,408.9 155.1,406.7 158.5,405.0 162.6,403.8 165.1,403.8 166.8,408.0 169.4,413.2 171.1,416.9 173.6,414.9 177.0,412.8 180.5,412.3 183.9,415.2 187.3,414.5 190.7,414.0 195.0,416.2 198.4,412.3 200.9,411.5 202.6,412.8 205.2,408.4 208.3,406.3 210.3,410.6 212.9,412.3 215.4,415.7 218.8,416.2 222.3,418.3 225.7,420.0 229.1,418.0 232.5,416.6 235.9,418.0 240.2,419.1 245.3,420.0 250.4,420.9 254.7,422.6 258.9,423.1 264.0,422.0 269.2,422.6 274.3,423.7 277.7,424.3 281.1,422.0 284.5,422.6 289.6,421.7 294.8,420.9 299.9,420.0 303.3,418.3 306.7,419.1 310.1,412.8 312.7,412.8 315.2,415.2 317.8,413.2 321.0,412.3 322.7,416.9 326.9,418.6 332.0,420.3 336.3,418.0 338.9,420.0 343.1,419.1 347.4,418.6 350.8,421.4 355.9,421.7 360.2,420.3 363.6,416.2 366.2,412.8 368.7,411.8 371.3,417.4 373.8,421.4 377.3,420.0 380.7,417.4 384.9,416.6 390.1,414.9 393.5,416.2 398.6,414.0 402.0,409.8 405.1,408.4 408.0,412.3 410.5,414.5 415.6,415.2 420.8,413.2 424.2,411.5 427.6,408.9 432.7,408.0 435.3,405.5 437.8,405.0 440.4,406.7 442.9,405.5 444.6,408.0 446.3,412.8 448.9,411.5 451.5,412.8 454.9,411.1 458.3,409.8 460.3,406.7 462.0,411.5 463.7,416.9 466.0,415.7 468.5,416.9 471.9,418.0 473.4,417.4 476.8,415.2 480.2,413.2 483.6,413.2 485.4,412.3 487.9,414.9 490.5,416.2 493.9,414.0 497.3,412.3 499.9,412.0 502.4,413.2 505.8,414.9 509.2,416.6 512.6,420.0 515.2,421.4 517.8,419.7 521.2,420.9 524.6,419.1 528.0,416.2 531.4,418.6 534.8,420.9 538.2,422.6 541.6,423.7 545.1,425.1 548.5,424.3 551.9,421.4 554.4,420.3 557.0,419.1 558.7,420.9 561.3,419.1 563.8,421.4 568.1,421.4 572.3,419.1 575.8,421.4 580.9,420.9 586.0,420.0 589.4,416.9 592.0,416.2 594.5,417.4 597.1,416.2 599.6,416.9 602.2,414.5 604.8,414.5 606.5,412.8 609.0,415.7 612.4,416.2 615.8,415.7 620.1,418.0 623.5,415.7 626.9,416.6 630.1,417.4 635.2,420.0 640.4,420.9 642.9,418.3 645.5,419.7 650.6,414.5 656.6,411.8 659.1,413.2 661.7,412.3 664.2,413.2 666.8,412.3 668.5,414.0 671.9,409.8 675.3,407.7 677.9,411.5 680.4,411.8 683.0,414.5 686.4,414.0 689.8,416.9 693.2,413.2 696.6,414.9 700.1,418.3 702.6,416.9 706.0,419.7 710.3,420.0 713.7,421.4 718.0,420.0 721.4,419.7 723.9,418.3 727.3,415.7 730.8,414.0 733.3,412.8 735.9,416.6 738.4,416.2 741.8,418.0 744.4,419.1 747.8,420.0 751.2,422.0 754.6,423.1 758.0,423.7 761.5,421.7 764.9,417.4 768.3,416.9 771.7,418.0 775.1,416.9 777.7,412.3 779.4,411.5 781.1,412.8 783.6,412.0 783.6,412.7" fill="url(#gOB)" clip-path="url(#c70)"/>
<line x1="8" y1="412.7" x2="884" y2="412.7" stroke="#566068" stroke-width="0.7" stroke-dasharray="3.2,3" opacity="0.9"/>
<line x1="8" y1="418.4" x2="884" y2="418.4" stroke="#b4c2cc" stroke-width="0.7" stroke-dasharray="3.2,3" opacity="0.8"/>
<line x1="8" y1="424.4" x2="884" y2="424.4" stroke="#7f8c97" stroke-width="0.7" stroke-dasharray="3.2,3" opacity="0.8"/>
<polyline points="44.2,416.6 49.3,417.4 54.5,416.9 57.9,412.3 62.1,407.2 63.9,408.0 65.6,406.0 67.3,407.2 69.0,405.0 70.7,410.6 73.2,412.3 76.6,414.0 80.0,414.9 83.5,412.3 86.0,413.2 88.6,412.3 91.1,415.2 95.4,416.9 100.5,417.4 105.6,416.6 110.8,415.2 115.9,417.4 121.0,420.0 125.3,422.0 127.8,422.6 131.2,418.0 134.6,416.9 139.8,415.7 143.2,410.6 146.6,405.5 149.1,406.7 151.7,408.9 155.1,406.7 158.5,405.0 162.6,403.8 165.1,403.8 166.8,408.0 169.4,413.2 171.1,416.9 173.6,414.9 177.0,412.8 180.5,412.3 183.9,415.2 187.3,414.5 190.7,414.0 195.0,416.2 198.4,412.3 200.9,411.5 202.6,412.8 205.2,408.4 208.3,406.3 210.3,410.6 212.9,412.3 215.4,415.7 218.8,416.2 222.3,418.3 225.7,420.0 229.1,418.0 232.5,416.6 235.9,418.0 240.2,419.1 245.3,420.0 250.4,420.9 254.7,422.6 258.9,423.1 264.0,422.0 269.2,422.6 274.3,423.7 277.7,424.3 281.1,422.0 284.5,422.6 289.6,421.7 294.8,420.9 299.9,420.0 303.3,418.3 306.7,419.1 310.1,412.8 312.7,412.8 315.2,415.2 317.8,413.2 321.0,412.3 322.7,416.9 326.9,418.6 332.0,420.3 336.3,418.0 338.9,420.0 343.1,419.1 347.4,418.6 350.8,421.4 355.9,421.7 360.2,420.3 363.6,416.2 366.2,412.8 368.7,411.8 371.3,417.4 373.8,421.4 377.3,420.0 380.7,417.4 384.9,416.6 390.1,414.9 393.5,416.2 398.6,414.0 402.0,409.8 405.1,408.4 408.0,412.3 410.5,414.5 415.6,415.2 420.8,413.2 424.2,411.5 427.6,408.9 432.7,408.0 435.3,405.5 437.8,405.0 440.4,406.7 442.9,405.5 444.6,408.0 446.3,412.8 448.9,411.5 451.5,412.8 454.9,411.1 458.3,409.8 460.3,406.7 462.0,411.5 463.7,416.9 466.0,415.7 468.5,416.9 471.9,418.0 473.4,417.4 476.8,415.2 480.2,413.2 483.6,413.2 485.4,412.3 487.9,414.9 490.5,416.2 493.9,414.0 497.3,412.3 499.9,412.0 502.4,413.2 505.8,414.9 509.2,416.6 512.6,420.0 515.2,421.4 517.8,419.7 521.2,420.9 524.6,419.1 528.0,416.2 531.4,418.6 534.8,420.9 538.2,422.6 541.6,423.7 545.1,425.1 548.5,424.3 551.9,421.4 554.4,420.3 557.0,419.1 558.7,420.9 561.3,419.1 563.8,421.4 568.1,421.4 572.3,419.1 575.8,421.4 580.9,420.9 586.0,420.0 589.4,416.9 592.0,416.2 594.5,417.4 597.1,416.2 599.6,416.9 602.2,414.5 604.8,414.5 606.5,412.8 609.0,415.7 612.4,416.2 615.8,415.7 620.1,418.0 623.5,415.7 626.9,416.6 630.1,417.4 635.2,420.0 640.4,420.9 642.9,418.3 645.5,419.7 650.6,414.5 656.6,411.8 659.1,413.2 661.7,412.3 664.2,413.2 666.8,412.3 668.5,414.0 671.9,409.8 675.3,407.7 677.9,411.5 680.4,411.8 683.0,414.5 686.4,414.0 689.8,416.9 693.2,413.2 696.6,414.9 700.1,418.3 702.6,416.9 706.0,419.7 710.3,420.0 713.7,421.4 718.0,420.0 721.4,419.7 723.9,418.3 727.3,415.7 730.8,414.0 733.3,412.8 735.9,416.6 738.4,416.2 741.8,418.0 744.4,419.1 747.8,420.0 751.2,422.0 754.6,423.1 758.0,423.7 761.5,421.7 764.9,417.4 768.3,416.9 771.7,418.0 775.1,416.9 777.7,412.3 779.4,411.5 781.1,412.8 783.6,412.0" fill="none" stroke="#4a7be0" stroke-width="0.9" stroke-linejoin="round"/>
<text x="12.7" y="414.4" font-size="8.7" fill="#303030" font-weight="normal" text-anchor="start" textLength="10.2" lengthAdjust="spacingAndGlyphs">RSI</text>
<text x="28.0" y="414.4" font-size="8.7" fill="#4a7be0" font-weight="normal" text-anchor="start" textLength="18.4" lengthAdjust="spacingAndGlyphs">69.62</text>
<text x="56.5" y="439.9" font-size="8" fill="#22282c" font-weight="bold" text-anchor="middle" textLength="17.2" lengthAdjust="spacingAndGlyphs">2016</text>
<text x="93.9" y="439.9" font-size="8" fill="#3c4448" font-weight="normal" text-anchor="middle" textLength="10.0" lengthAdjust="spacingAndGlyphs">Jul</text>
<text x="132.3" y="439.9" font-size="8" fill="#22282c" font-weight="bold" text-anchor="middle" textLength="17.2" lengthAdjust="spacingAndGlyphs">2017</text>
<text x="169.8" y="439.9" font-size="8" fill="#3c4448" font-weight="normal" text-anchor="middle" textLength="10.0" lengthAdjust="spacingAndGlyphs">Jul</text>
<text x="208.2" y="439.9" font-size="8" fill="#22282c" font-weight="bold" text-anchor="middle" textLength="17.2" lengthAdjust="spacingAndGlyphs">2018</text>
<text x="245.6" y="439.9" font-size="8" fill="#3c4448" font-weight="normal" text-anchor="middle" textLength="10.0" lengthAdjust="spacingAndGlyphs">Jul</text>
<text x="284.0" y="439.9" font-size="8" fill="#22282c" font-weight="bold" text-anchor="middle" textLength="17.2" lengthAdjust="spacingAndGlyphs">2019</text>
<text x="321.4" y="439.9" font-size="8" fill="#3c4448" font-weight="normal" text-anchor="middle" textLength="10.0" lengthAdjust="spacingAndGlyphs">Jul</text>
<text x="359.9" y="439.9" font-size="8" fill="#22282c" font-weight="bold" text-anchor="middle" textLength="17.2" lengthAdjust="spacingAndGlyphs">2020</text>
<text x="397.3" y="439.9" font-size="8" fill="#3c4448" font-weight="normal" text-anchor="middle" textLength="10.0" lengthAdjust="spacingAndGlyphs">Jul</text>
<text x="435.8" y="439.9" font-size="8" fill="#22282c" font-weight="bold" text-anchor="middle" textLength="17.2" lengthAdjust="spacingAndGlyphs">2021</text>
<text x="473.1" y="439.9" font-size="8" fill="#3c4448" font-weight="normal" text-anchor="middle" textLength="10.0" lengthAdjust="spacingAndGlyphs">Jul</text>
<text x="511.6" y="439.9" font-size="8" fill="#22282c" font-weight="bold" text-anchor="middle" textLength="17.2" lengthAdjust="spacingAndGlyphs">2022</text>
<text x="549.0" y="439.9" font-size="8" fill="#3c4448" font-weight="normal" text-anchor="middle" textLength="10.0" lengthAdjust="spacingAndGlyphs">Jul</text>
<text x="587.4" y="439.9" font-size="8" fill="#22282c" font-weight="bold" text-anchor="middle" textLength="17.2" lengthAdjust="spacingAndGlyphs">2023</text>
<text x="624.8" y="439.9" font-size="8" fill="#3c4448" font-weight="normal" text-anchor="middle" textLength="10.0" lengthAdjust="spacingAndGlyphs">Jul</text>
<text x="663.3" y="439.9" font-size="8" fill="#22282c" font-weight="bold" text-anchor="middle" textLength="17.2" lengthAdjust="spacingAndGlyphs">2024</text>
<text x="700.7" y="439.9" font-size="8" fill="#3c4448" font-weight="normal" text-anchor="middle" textLength="10.0" lengthAdjust="spacingAndGlyphs">Jul</text>
<text x="739.1" y="439.9" font-size="8" fill="#22282c" font-weight="bold" text-anchor="middle" textLength="17.2" lengthAdjust="spacingAndGlyphs">2025</text>
<text x="776.5" y="439.9" font-size="8" fill="#3c4448" font-weight="normal" text-anchor="middle" textLength="10.0" lengthAdjust="spacingAndGlyphs">Jul</text>
<text x="815.0" y="439.9" font-size="8" fill="#22282c" font-weight="bold" text-anchor="middle" textLength="17.2" lengthAdjust="spacingAndGlyphs">2026</text>
<text x="852.4" y="439.9" font-size="8" fill="#3c4448" font-weight="normal" text-anchor="middle" textLength="10.0" lengthAdjust="spacingAndGlyphs">Jul</text>
<g>
<circle cx="783.7" cy="341.6" r="6.5" fill="#f7f0fc" stroke="#b45ad9" stroke-width="1.1"/>
<path d="M785.3 337.2L781.6 342.1H783.9L782.6 346L786.4 340.7H784.1Z" fill="#a646d6"/>
<path d="M776 340.3l1 2 2 1-2 1-1 2-1-2-2-1 2-1z" fill="#6f4fe0" stroke="#6f4fe0" stroke-width="0.5" stroke-linejoin="round"/>
<circle cx="788.7" cy="336.9" r="1.7" fill="#ee3a50" stroke="#ffffff" stroke-width="0.4"/>
<circle cx="783.8" cy="356.9" r="6.6" fill="#ffffff" stroke="#e9626f" stroke-width="1.4"/>
<clipPath id="cFlag"><circle cx="783.8" cy="356.9" r="4.8"/></clipPath>
<g clip-path="url(#cFlag)"><rect x="778" y="351" width="12" height="12" fill="#ffffff"/><rect x="778" y="352.6" width="12" height="1.2" fill="#ea5a68"/><rect x="778" y="355" width="12" height="1.2" fill="#ea5a68"/><rect x="778" y="357.4" width="12" height="1.2" fill="#ea5a68"/><rect x="778" y="359.8" width="12" height="1.2" fill="#ea5a68"/><rect x="778" y="351" width="5.6" height="6.2" fill="#4a72d0"/></g>
</g>
<g transform="translate(7.9,453.1) scale(0.345)" fill="#d9d9d9"><path d="M14 22H7V11H0V4h14v18z"/><circle cx="20" cy="8" r="4"/><path d="M28 22h-8l7.5-18h8L28 22z"/></g>
<text x="22.8" y="460.9" font-size="8.6" fill="#d0d0d0" font-weight="normal" text-anchor="start" textLength="45.1" lengthAdjust="spacingAndGlyphs" stroke="#d0d0d0" stroke-width="0.25">TradingView</text>
</g>
</svg>
</body></html>
